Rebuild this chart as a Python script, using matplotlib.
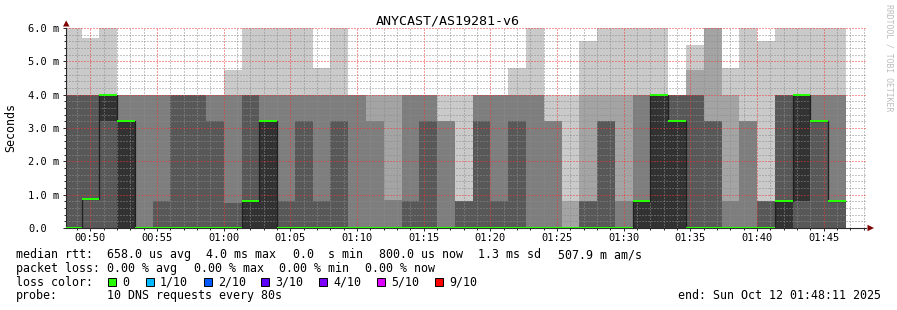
import matplotlib
matplotlib.use("Agg")
import numpy as np
import matplotlib.pyplot as plt
import matplotlib.dates as mdates
from matplotlib.ticker import MultipleLocator, FuncFormatter
from matplotlib.patches import Polygon, Rectangle
from datetime import datetime, timedelta

W, H = 897, 310
MONO = "DejaVu Sans Mono"
plt.rcParams["font.family"] = [MONO, "DejaVu Sans"]

title = "ANYCAST/AS19281-v6"
t_start = datetime(2025, 10, 12, 0, 48, 11)
t_end = datetime(2025, 10, 12, 1, 48, 11)
t_first = datetime(2025, 10, 12, 0, 48, 1)
step = 80  # seconds per rrd row

# sorted ping times per row (ms), ping1 fastest .. ping10 slowest (clipped at 6 ms)
ping1 = [0, 0, 0, 0, 0, 0, 0, 0, 0, 0, 0, 0, 0, 0, 0, 0, 0, 0, 0, 0, 0, 0,
         0, 0, 0, 0, 0, 0, 0, 0, 0, 0, 0, 0, 0, 0, 0, 0, 0, 0, 0, 0, 0, 0]
ping2 = [0, 0, 0, 0, 0, 0, 0, 0, 0, 0, 0, 0, 0, 0, 0, 0, 0, 0, 0, 0, 0, 0,
         0, 0, 0, 0, 0, 0, 0, 0, 0, 0, 0, 0, 0, 0, 0, 0, 0, 0, 0, 0, 0, 0]
ping3 = [0, 0, 0, 0, 0, 0, 0, 0, 0, 0, 0, 0, 0, 0, 0, 0, 0, 0, 0, 0, 0, 0,
         0, 0, 0, 0, 0, 0, 0, 0, 0, 0, 0, 0, 0, 0, 0, 0, 0, 0, 0, 0, 0, 0]
ping4 = [0, 0, 0, 0, 0, 0, 0, 0, 0, 0, 0, 0, 0, 0, 0, 0, 0, 0, 0, 0, 0, 0,
         0, 0, 0, 0, 0, 0, 0, 0, 0, 0, 0, 0, 0, 0, 0, 0, 0, 0, 0, 0, 0, 0]
ping5 = [0, 0.86, 3.2, 0, 0, 0, 0, 0, 0, 0, 0, 0, 0, 0, 0, 0, 0, 0, 0, 0, 0, 0,
         0, 0, 0, 0, 0, 0, 0, 0, 0, 0, 0, 0, 0, 0, 0, 0, 0, 0, 0, 0.8, 3.2, 0.8]
ping6 = [0, 0.86, 4, 3.2, 0, 0, 0, 0, 0, 0, 0.8, 3.2, 0, 0, 0, 0, 0, 0, 0, 0, 0, 0,
         0, 0, 0, 0, 0, 0, 0, 0, 0, 0, 0.8, 4, 3.2, 0, 0, 0, 0, 0, 0.8, 4, 3.2, 0.8]
ping7 = [4, 4, 4, 3.2, 0, 0.8, 4, 4, 3.2, 0.75, 4, 3.2, 0.8, 3.2, 0.8, 3.2, 0, 0, 0, 0.8, 3.2, 0,
         0.8, 3.2, 0.8, 3.2, 0, 0, 0, 0.8, 3.2, 0, 0.8, 4, 4, 4, 3.2, 0, 0, 0.8, 4, 4, 3.2, 0.8]
ping8 = [4, 4, 4, 4, 4, 4, 4, 4, 4, 4, 4, 4, 4, 4, 4, 4, 4, 3.2, 0.85, 4, 4, 3.2,
         0.8, 4, 4, 4, 4, 3.2, 0, 0.8, 3.2, 0.8, 4, 4, 4, 4, 3.2, 0.8, 3.2, 0.8, 4, 4, 4, 4]
ping9 = [4, 4, 4, 4, 4, 4, 4, 4, 4, 4, 4, 4, 4, 4, 4, 4, 4, 4, 4, 4, 4, 3.2,
         0.8, 4, 4, 4, 4, 3.2, 0.8, 4, 4, 4, 4, 4, 4, 4.75, 6, 4, 3.2, 0.8, 4, 4, 4, 4]
ping10 = [6, 5.7, 6, 4, 4, 4, 4, 4, 4, 4.75, 6, 6, 6, 6, 4.8, 6, 4, 4, 4, 4, 4, 4,
          4, 4, 4, 4.8, 6, 4, 4, 5.6, 6, 6, 6, 6, 4, 5.5, 6, 4.8, 6, 5.6, 6, 6, 6, 6]
median = [0, 0.86, 4, 3.2, 0, 0, 0, 0, 0, 0, 0.8, 3.2, 0, 0, 0, 0, 0, 0, 0, 0, 0, 0,
          0, 0, 0, 0, 0, 0, 0, 0, 0, 0, 0.8, 4, 3.2, 0, 0, 0, 0, 0, 0.8, 4, 3.2, 0.8]

smoke_colors = ["#cacaca", "#a4a4a4", "#7e7e7e", "#585858", "#323232"]
loss_labels = ["0", "1/10", "2/10", "3/10", "4/10", "5/10", "9/10"]
loss_colors = ["#26ff00", "#00b8ff", "#0059ff", "#5e00ff", "#7e00ff", "#dd00ff", "#ff0000"]

median_stats = ["658.0 us avg", "4.0 ms max", "0.0  s min", "800.0 us now",
                "1.3 ms sd", "507.9 m am/s"]
loss_stats = ["0.00 % avg", "0.00 % max", "0.00 % min", "0.00 % now"]
probe_text = "10 DNS requests every 80s"
end_text = "end: Sun Oct 12 01:48:11 2025"


def px(x, y):
    return x / W, 1 - y / H


fig = plt.figure(figsize=(W / 100, H / 100), dpi=100)
ax = fig.add_axes([66 / W, 82 / H, 800 / W, 200 / H])

pings = [np.array(p, dtype=float) for p in
         (ping1, ping2, ping3, ping4, ping5, ping6, ping7, ping8, ping9, ping10)]
edges = mdates.date2num([t_first + timedelta(seconds=step * k) for k in range(len(median) + 1)])

# smoke: nested bands between ping i and ping 11-i
for i, col in enumerate(smoke_colors):
    ax.stairs(pings[9 - i], edges, baseline=pings[i], fill=True, color=col,
              lw=0, antialiased=False, zorder=1)

med = np.array(median, dtype=float)
ax.stairs(med, edges, baseline=None, color="#202020", lw=0.9, zorder=3)
sw = 0.033
ax.stairs(med + sw, edges, baseline=med - sw, fill=True, color=loss_colors[0],
          lw=0, antialiased=False, zorder=4)

ax.set_xlim(mdates.date2num(t_start), mdates.date2num(t_end))
ax.set_ylim(0, 6)

ax.xaxis.set_major_locator(mdates.MinuteLocator(byminute=range(0, 60, 5)))
ax.xaxis.set_minor_locator(mdates.MinuteLocator())
ax.xaxis.set_major_formatter(mdates.DateFormatter("%H:%M"))
ax.yaxis.set_major_locator(MultipleLocator(1.0))
ax.yaxis.set_minor_locator(MultipleLocator(0.2))
ax.yaxis.set_major_formatter(FuncFormatter(lambda v, p: f"{v:.1f} m" if v > 0 else "0.0"))

ax.set_axisbelow("line")
ax.grid(which="major", color=(0.95, 0.2, 0.2, 0.3), lw=0.72, linestyle=(0, (1, 2)))
ax.grid(which="minor", color=(0.55, 0.55, 0.55, 0.28), lw=0.72, linestyle=(0, (1, 2)))

for s in ("top", "right"):
    ax.spines[s].set_visible(False)
for s in ("left", "bottom"):
    ax.spines[s].set_color("#2a2a2a")
    ax.spines[s].set_linewidth(0.8)

ax.tick_params(which="major", length=2.2, width=0.72, color="#2a2a2a",
               labelsize=7.5, labelfontfamily=MONO)
ax.tick_params(which="minor", length=1.4, width=0.72, color="#2a2a2a")
ax.tick_params(axis="x", pad=1.5)
ax.tick_params(axis="y", pad=25)
fig.canvas.draw()
for lab in ax.get_yticklabels():
    lab.set_horizontalalignment("left")

# axis arrows
fig.add_artist(Polygon([px(63, 26.5), px(69.5, 26.5), px(66.2, 20.5)], closed=True,
                       transform=fig.transFigure, color="#7f0000", lw=0))
fig.add_artist(Polygon([px(867.5, 224.8), px(867.5, 231.2), px(874, 228)], closed=True,
                       transform=fig.transFigure, color="#7f0000", lw=0))

fig.text(*px(448, 24), title, ha="center", va="baseline", family=MONO, fontsize=9.6)
fig.text(*px(11, 128), "Seconds", rotation=90, ha="center", va="center",
         family=MONO, fontsize=8.4)
fig.text(*px(888.5, 4), "RRDTOOL / TOBI OETIKER", rotation=270, ha="center", va="top",
         family=MONO, fontsize=5.9, color="#bdbdbd")

fs = 8.4
# legend line 1
fig.text(*px(16, 258.3), "median rtt:", family=MONO, fontsize=fs, va="baseline")
for x, s in zip([106.8, 206.2, 292.8, 378.8, 477.8, 557.8], median_stats):
    fig.text(*px(x, 258.3), s, family=MONO, fontsize=fs, va="baseline")
# legend line 2
fig.text(*px(16, 272), "packet loss:", family=MONO, fontsize=fs, va="baseline")
for x, s in zip([106.8, 193.5, 278.8, 364.5], loss_stats):
    fig.text(*px(x, 272), s, family=MONO, fontsize=fs, va="baseline")
# legend line 3
fig.text(*px(16, 285.7), "loss color:", family=MONO, fontsize=fs, va="baseline")
bx = 108.3
for lab, col in zip(loss_labels, loss_colors):
    fig.add_artist(Rectangle(px(bx, 285.7), 8 / W, 8 / H, transform=fig.transFigure,
                             facecolor=col, edgecolor="black", lw=0.7))
    fig.text(*px(bx + 14.2, 285.7), lab, family=MONO, fontsize=fs, va="baseline")
    bx += 30.6 + 6.82 * len(lab)
# legend line 4
fig.text(*px(16, 299.3), "probe:", family=MONO, fontsize=fs, va="baseline")
fig.text(*px(106.8, 299.3), probe_text, family=MONO, fontsize=fs, va="baseline")
fig.text(*px(880.5, 299.3), end_text, family=MONO, fontsize=fs, va="baseline", ha="right")

fig.savefig("out.png", dpi=100)
